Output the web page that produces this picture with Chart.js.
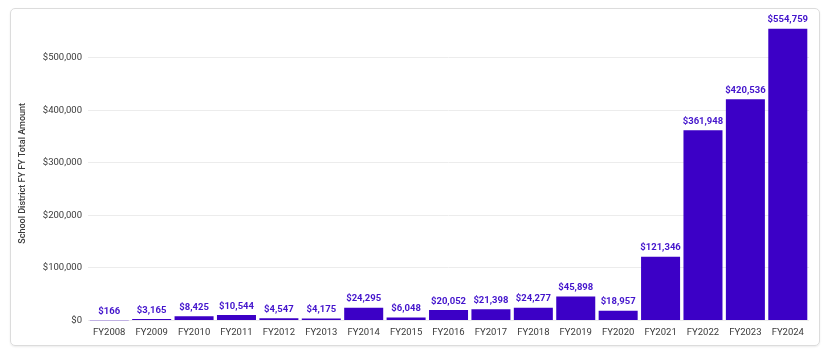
<!DOCTYPE html>
<html lang="en">
<head>
    <meta charset="UTF-8">
    <title>School District FY Total Amount</title>
    <script src="https://cdn.jsdelivr.net/npm/chart.js"></script>
    <style>
        body {
            margin: 0;
            background: #ffffff;
            font-family: Roboto, sans-serif;
        }

        .card {
            position: absolute;
            left: 10px;
            top: 8px;
            width: 808px;
            height: 336px;
            border: 1px solid #dcdcdc;
            border-radius: 5px;
            box-shadow: 0 1px 2px rgba(0, 0, 0, 0.08);
        }

        .chart-box {
            position: absolute;
            left: 0;
            top: 0;
            width: 830px;
            height: 352px;
        }
    </style>
</head>
<body>
    <div class="card"></div>
    <div class="chart-box">
        <canvas id="amountChart"></canvas>
    </div>

    <script>
        const years = ['FY2008', 'FY2009', 'FY2010', 'FY2011', 'FY2012', 'FY2013', 'FY2014', 'FY2015', 'FY2016',
            'FY2017', 'FY2018', 'FY2019', 'FY2020', 'FY2021', 'FY2022', 'FY2023', 'FY2024'];
        const amounts = [166, 3165, 8425, 10544, 4547, 4175, 24295, 6048, 20052,
            21398, 24277, 45898, 18957, 121346, 361948, 420536, 554759];
        const yTicks = [0, 100000, 200000, 300000, 400000, 500000];

        const barColor = '#3c00c6';
        const fmt = v => '$' + v.toLocaleString('en-US');

        // draws the value above every bar
        const valueLabels = {
            id: 'valueLabels',
            afterDatasetsDraw(chart) {
                const ctx = chart.ctx;
                const meta = chart.getDatasetMeta(0);
                ctx.save();
                ctx.font = 'bold 9.5px Roboto';
                ctx.fillStyle = '#4314cc';
                ctx.textAlign = 'center';
                ctx.textBaseline = 'bottom';
                meta.data.forEach((bar, i) => {
                    ctx.fillText(fmt(amounts[i]), bar.x, bar.y - 4);
                });
                ctx.restore();
            }
        };

        new Chart(document.getElementById('amountChart'), {
            type: 'bar',
            data: {
                labels: years,
                datasets: [{
                    data: amounts,
                    backgroundColor: barColor,
                    barPercentage: 0.92,
                    categoryPercentage: 1.0
                }]
            },
            options: {
                responsive: true,
                maintainAspectRatio: false,
                animation: false,
                layout: {
                    padding: { left: 13, right: 21, top: 26, bottom: 8 }
                },
                plugins: {
                    legend: { display: false },
                    tooltip: { enabled: false }
                },
                scales: {
                    x: {
                        grid: { display: false, drawTicks: false, tickLength: 0 },
                        border: { display: false },
                        ticks: {
                            color: '#3a3a3a',
                            font: { family: 'Roboto', size: 9.5 },
                            maxRotation: 0,
                            padding: 6
                        }
                    },
                    y: {
                        min: 0,
                        max: 560000,
                        afterBuildTicks: scale => {
                            scale.ticks = yTicks.map(v => ({ value: v }));
                        },
                        grid: { color: '#ececec', drawTicks: false },
                        border: { display: false },
                        ticks: {
                            color: '#3a3a3a',
                            font: { family: 'Roboto', size: 9.5 },
                            padding: 6,
                            callback: v => fmt(v)
                        },
                        title: {
                            display: true,
                            text: 'School District FY FY Total Amount',
                            color: '#3a3a3a',
                            font: { family: 'Roboto', size: 9, weight: '500' },
                            padding: { top: 4, bottom: 9 }
                        }
                    }
                }
            },
            plugins: [valueLabels]
        });
    </script>
</body>
</html>
